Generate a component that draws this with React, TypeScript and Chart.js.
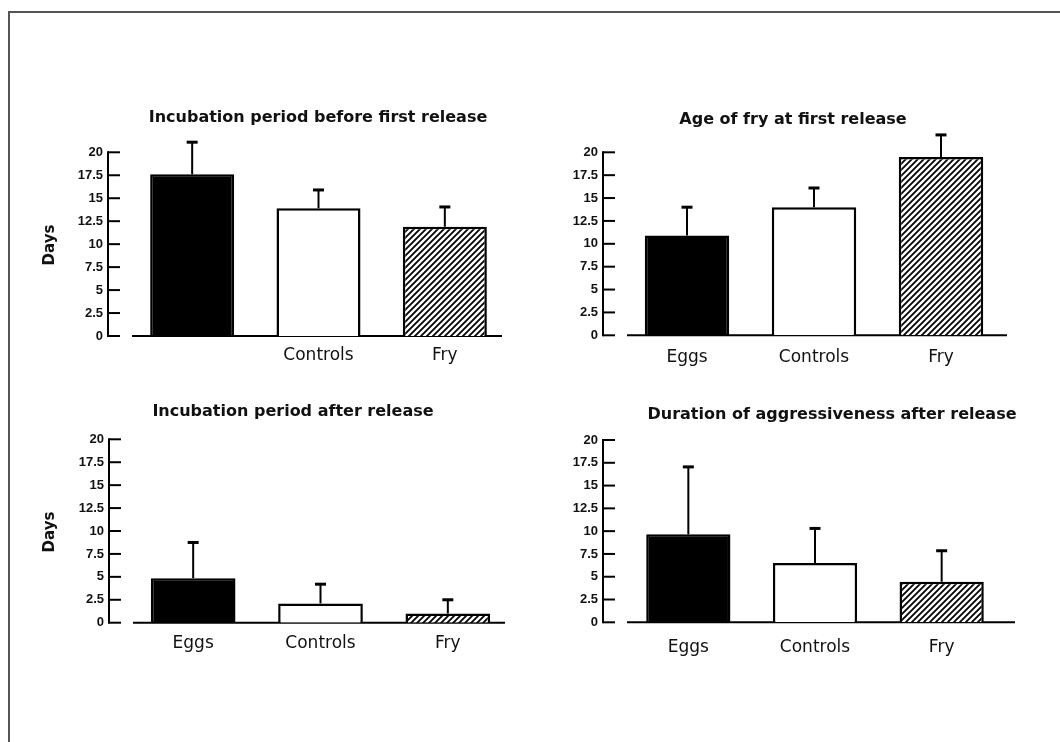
import React, { useEffect, useRef } from "react";
import { Chart, registerables } from "chart.js";

Chart.register(...registerables);

// ---------- data ----------
const categories = ["Eggs", "Controls", "Fry"];
const firstPanelLabels = ["", "Controls", "Fry"];
const yMin = 0;
const yMax = 20;
const yStep = 2.5;

const incubationBeforeMeans = [17.6, 13.9, 11.9];
const incubationBeforeErrors = [3.5, 2.0, 2.15];

const ageAtReleaseMeans = [10.9, 14.0, 19.5];
const ageAtReleaseErrors = [3.1, 2.1, 2.4];

const incubationAfterMeans = [4.85, 2.1, 1.0];
const incubationAfterErrors = [3.9, 2.1, 1.5];

const aggressivenessMeans = [9.65, 6.5, 4.45];
const aggressivenessErrors = [7.4, 3.8, 3.4];

const panelTitles = [
  "Incubation period before first release",
  "Age of fry at first release",
  "Incubation period after release",
  "Duration of aggressiveness after release",
];
const yAxisTitle = "Days";

// ---------- layout (absolute page coordinates) ----------
type Layout = {
  canvas: { x: number; y: number; w: number; h: number };
  area: { l: number; r: number; t: number; b: number };
  axisX: number;
  baseline: [number, number];
  title: { x: number; y: number };
  days?: { x: number; y: number };
  labelPad: number;
};

const layouts: Layout[] = [
  {
    canvas: { x: 20, y: 95, w: 500, h: 290 },
    area: { l: 129, r: 508, t: 152.3, b: 336 },
    axisX: 108,
    baseline: [132, 502],
    title: { x: 318, y: 118 },
    days: { x: 50, y: 245 },
    labelPad: 9,
  },
  {
    canvas: { x: 520, y: 95, w: 530, h: 290 },
    area: { l: 623.5, r: 1004.5, t: 152.3, b: 335.3 },
    axisX: 603,
    baseline: [627, 1007],
    title: { x: 793, y: 120 },
    labelPad: 12,
  },
  {
    canvas: { x: 20, y: 390, w: 500, h: 290 },
    area: { l: 129.5, r: 511.5, t: 439.3, b: 622.7 },
    axisX: 109,
    baseline: [133, 505],
    title: { x: 293, y: 412 },
    days: { x: 50, y: 532 },
    labelPad: 11,
  },
  {
    canvas: { x: 520, y: 390, w: 530, h: 290 },
    area: { l: 625, r: 1005, t: 440, b: 622.3 },
    axisX: 603,
    baseline: [627, 1015],
    title: { x: 832, y: 415 },
    labelPad: 15,
  },
];

const INK = "#111111";
const TITLE_FONT = "bold 16px 'DejaVu Sans'";
const DAYS_FONT = "bold 15px 'DejaVu Sans'";

function makeHatch(ctx: CanvasRenderingContext2D): CanvasPattern | string {
  const s = 6;
  const c = document.createElement("canvas");
  c.width = s;
  c.height = s;
  const g = c.getContext("2d");
  if (!g) return "#666";
  g.fillStyle = "#ffffff";
  g.fillRect(0, 0, s, s);
  g.strokeStyle = "#000000";
  g.lineWidth = 1.8;
  g.beginPath();
  g.moveTo(-1, s + 1);
  g.lineTo(s + 1, -1);
  g.moveTo(-1, 1);
  g.lineTo(1, -1);
  g.moveTo(s - 1, s + 1);
  g.lineTo(s + 1, s - 1);
  g.stroke();
  return ctx.createPattern(c, "repeat") || "#666";
}

type PanelProps = {
  layout: Layout;
  labels: string[];
  means: number[];
  errors: number[];
  title: string;
};

function Panel({ layout, labels, means, errors, title }: PanelProps) {
  const ref = useRef<HTMLCanvasElement | null>(null);

  useEffect(() => {
    const canvas = ref.current;
    if (!canvas) return;
    const ctx = canvas.getContext("2d");
    if (!ctx) return;
    const L = layout;
    const ox = L.canvas.x;
    const oy = L.canvas.y;
    const hatch = makeHatch(ctx);

    const decor = {
      id: "decor",
      beforeDatasetsDraw(chart: any) {
        const c = chart.ctx;
        const ys = chart.scales.y;
        c.save();
        c.strokeStyle = "#000";
        c.lineWidth = 2;
        c.beginPath();
        c.moveTo(L.baseline[0] - ox, ys.getPixelForValue(0));
        c.lineTo(L.baseline[1] - ox, ys.getPixelForValue(0));
        c.stroke();
        const ax = L.axisX - ox;
        c.beginPath();
        c.moveTo(ax, ys.getPixelForValue(yMin) + 1);
        c.lineTo(ax, ys.getPixelForValue(yMax) - 1);
        c.stroke();
        for (const t of ys.ticks) {
          const py = ys.getPixelForValue(t.value);
          c.beginPath();
          c.moveTo(ax, py);
          c.lineTo(ax + 12, py);
          c.stroke();
        }
        c.restore();
      },
      afterDatasetsDraw(chart: any) {
        const c = chart.ctx;
        const ys = chart.scales.y;
        const meta = chart.getDatasetMeta(0);
        c.save();
        c.strokeStyle = "#000";
        meta.data.forEach((bar: any, i: number) => {
          const x = bar.x;
          const top = bar.y;
          const errY = ys.getPixelForValue(means[i] + errors[i]);
          c.lineWidth = 2;
          c.beginPath();
          c.moveTo(x, top);
          c.lineTo(x, errY);
          c.stroke();
          c.lineWidth = 3;
          c.beginPath();
          c.moveTo(x - 5.5, errY);
          c.lineTo(x + 5.5, errY);
          c.stroke();
        });
        c.restore();
      },
      afterDraw(chart: any) {
        const c = chart.ctx;
        c.save();
        c.fillStyle = INK;
        c.font = TITLE_FONT;
        c.textAlign = "center";
        c.textBaseline = "middle";
        c.fillText(title, L.title.x - ox, L.title.y - oy);
        if (L.days) {
          c.font = DAYS_FONT;
          c.translate(L.days.x - ox, L.days.y - oy);
          c.rotate(-Math.PI / 2);
          c.fillText(yAxisTitle, 0, 0);
        }
        c.restore();
      },
    };

    const chart = new Chart(canvas, {
      type: "bar",
      data: {
        labels,
        datasets: [
          {
            data: means,
            backgroundColor: ["#000000", "#ffffff", hatch as any],
            borderColor: "#000000",
            borderWidth: 2.5,
            barPercentage: 0.665,
            categoryPercentage: 1,
          },
        ],
      },
      options: {
        responsive: false,
        animation: false,
        events: [],
        layout: {
          padding: {
            left: 0,
            bottom: 0,
            top: L.area.t - oy,
            right: ox + L.canvas.w - L.area.r,
          },
        },
        plugins: {
          legend: { display: false },
          tooltip: { enabled: false },
          title: { display: false },
        },
        scales: {
          x: {
            type: "category",
            offset: true,
            grid: { display: false, drawTicks: false },
            border: { display: false },
            ticks: {
              color: INK,
              font: { family: "'DejaVu Sans'", size: 17 },
              padding: L.labelPad,
              maxRotation: 0,
              autoSkip: false,
            },
            afterFit: (s: any) => {
              s.height = oy + L.canvas.h - L.area.b;
            },
          },
          y: {
            min: yMin,
            max: yMax,
            grid: { display: false, drawTicks: false },
            border: { display: false },
            ticks: {
              stepSize: yStep,
              color: INK,
              font: { family: "'Liberation Sans'", size: 13, weight: "bold" },
              padding: L.area.l - (L.axisX - 5),
              autoSkip: false,
            },
            afterFit: (s: any) => {
              s.width = L.area.l - ox;
            },
          },
        },
      },
      plugins: [decor],
    } as any);

    return () => chart.destroy();
  }, []);

  return (
    <canvas
      ref={ref}
      width={layout.canvas.w}
      height={layout.canvas.h}
      style={{
        position: "absolute",
        left: layout.canvas.x,
        top: layout.canvas.y,
        width: layout.canvas.w,
        height: layout.canvas.h,
      }}
    />
  );
}

export default function App() {
  return (
    <div
      style={{
        position: "absolute",
        left: 0,
        top: 0,
        width: 1060,
        height: 742,
        background: "#ffffff",
        overflow: "hidden",
      }}
    >
      <div
        style={{
          position: "absolute",
          left: 8,
          top: 11,
          width: 1070,
          height: 760,
          borderTop: "2px solid #555",
          borderLeft: "2px solid #555",
        }}
      />
      <Panel
        layout={layouts[0]}
        labels={firstPanelLabels}
        means={incubationBeforeMeans}
        errors={incubationBeforeErrors}
        title={panelTitles[0]}
      />
      <Panel
        layout={layouts[1]}
        labels={categories}
        means={ageAtReleaseMeans}
        errors={ageAtReleaseErrors}
        title={panelTitles[1]}
      />
      <Panel
        layout={layouts[2]}
        labels={categories}
        means={incubationAfterMeans}
        errors={incubationAfterErrors}
        title={panelTitles[2]}
      />
      <Panel
        layout={layouts[3]}
        labels={categories}
        means={aggressivenessMeans}
        errors={aggressivenessErrors}
        title={panelTitles[3]}
      />
    </div>
  );
}
